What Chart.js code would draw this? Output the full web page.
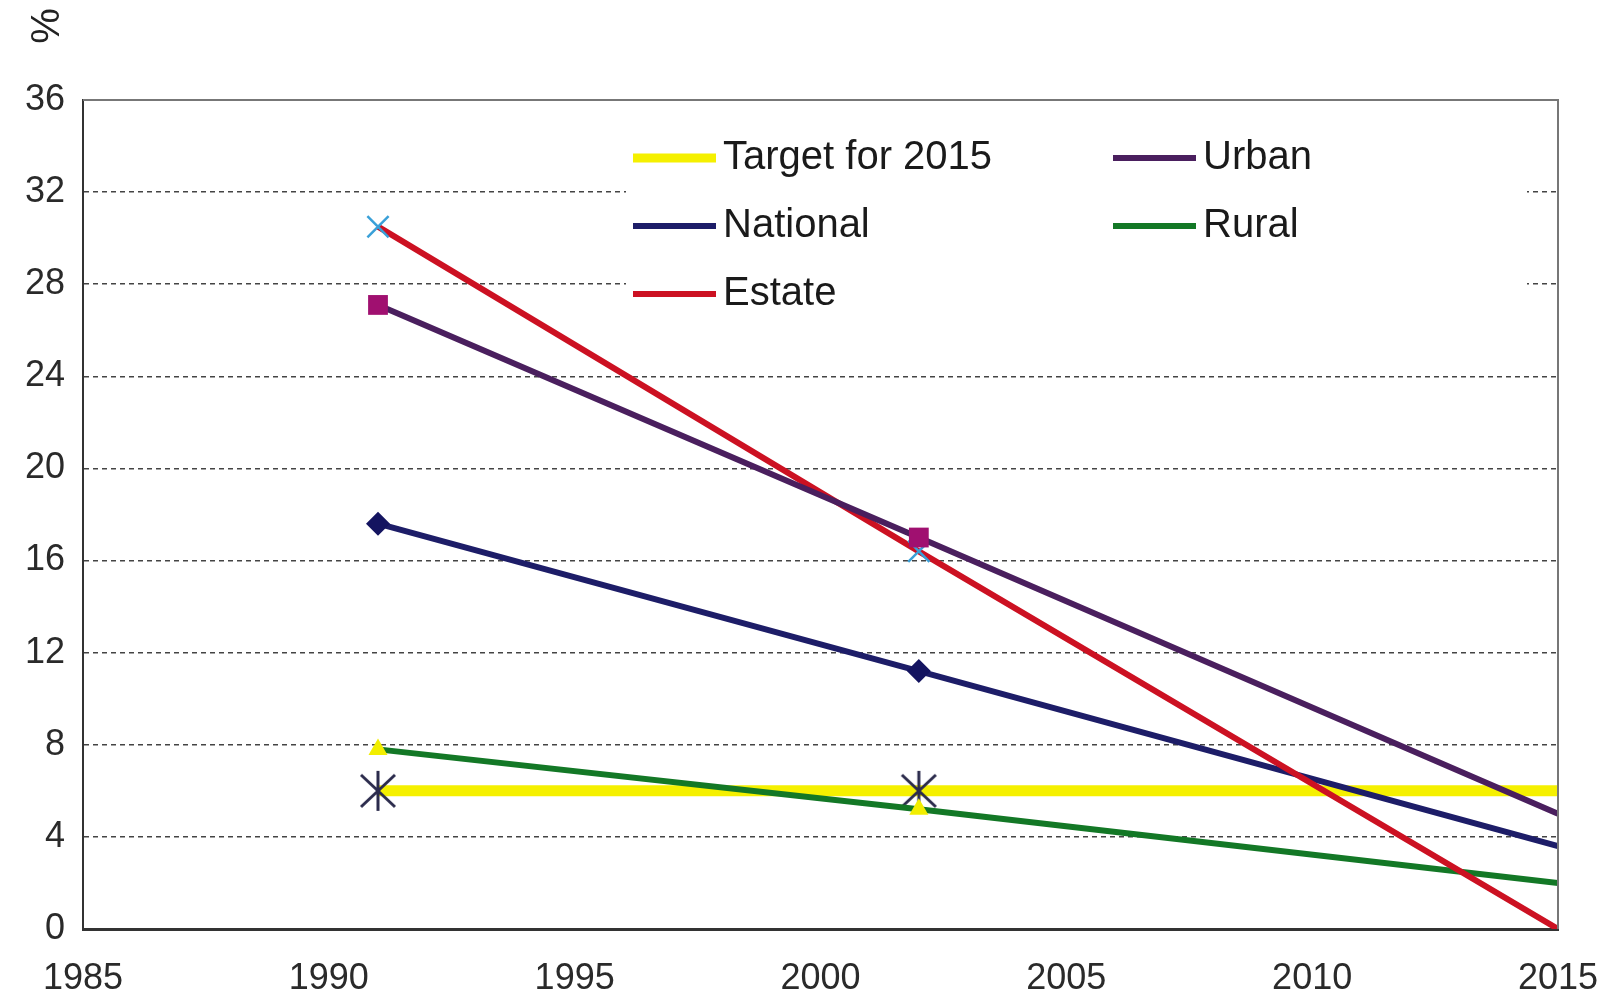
<!DOCTYPE html>
<html>
<head>
<meta charset="utf-8">
<script src="https://cdn.jsdelivr.net/npm/chart.js@4/dist/chart.umd.min.js"></script>
<style>
  html, body { margin: 0; padding: 0; background: #fff; }
  #wrap { width: 1610px; height: 999px; }
</style>
</head>
<body>
<div id="wrap"><canvas id="chLine" width="1610" height="999"></canvas></div>
<script>
// data
var years = [1991, 2002, 2015];
var target = [6.0, 6.0, 6.0];
var national = [17.6, 11.2, 3.6];
var estate = [30.5, 16.4, 0.0];
var urban = [27.1, 17.0, 5.0];
var rural = [7.8, 5.2, 2.0];

var xTicks = [1985, 1990, 1995, 2000, 2005, 2010, 2015];
var yTicks = [0, 4, 8, 12, 16, 20, 24, 28, 32, 36];

function pts(vals) {
    return vals.map(function (v, i) { return {x: years[i], y: v}; });
}

// excel style asterisk marker (vertical bar + X)
var star = document.createElement('canvas');
star.width = 44; star.height = 44;
(function () {
    var c = star.getContext('2d');
    c.strokeStyle = '#2b2b4c';
    c.lineWidth = 3;
    c.beginPath();
    c.moveTo(22, 2); c.lineTo(22, 42);
    c.moveTo(5, 6); c.lineTo(39, 38);
    c.moveTo(39, 6); c.lineTo(5, 38);
    c.stroke();
})();

// white legend box inside the plot, two columns
const boxLegend = {
    id: 'boxLegend',
    beforeDatasetsDraw(chart) {
        const ctx = chart.ctx;
        ctx.save();
        ctx.fillStyle = '#fff';
        ctx.fillRect(626, 118, 901, 214);
        ctx.font = '40px "Liberation Sans", Arial, sans-serif';
        ctx.textBaseline = 'middle';
        ctx.fillStyle = '#1a1a1a';
        chart.data.datasets.forEach(function (ds, i) {
            var col = i < 3 ? 0 : 1;
            var row = i < 3 ? i : i - 3;
            var x0 = col === 0 ? 633 : 1113;
            var y = 158 + row * 68;
            ctx.strokeStyle = ds.borderColor;
            ctx.lineWidth = ds.borderWidth > 8 ? 9 : 6;
            ctx.beginPath();
            ctx.moveTo(x0, y);
            ctx.lineTo(x0 + 83, y);
            ctx.stroke();
            ctx.fillText(ds.label, x0 + 90, y);
        });
        ctx.restore();
    },
    afterDraw(chart) {
        const ctx = chart.ctx;
        const a = chart.chartArea;
        ctx.save();
        ctx.strokeStyle = '#777';
        ctx.lineWidth = 2;
        ctx.beginPath();
        ctx.moveTo(a.left, a.top);
        ctx.lineTo(a.right, a.top);
        ctx.lineTo(a.right, a.bottom);
        ctx.stroke();
        // "%" axis title
        ctx.translate(48, 26);
        ctx.rotate(-Math.PI / 2);
        ctx.font = '40px "Liberation Sans", Arial, sans-serif';
        ctx.fillStyle = '#222';
        ctx.textAlign = 'center';
        ctx.textBaseline = 'middle';
        ctx.fillText('%', 0, 0);
        ctx.restore();
    }
};

var chLine = document.getElementById('chLine');

new Chart(chLine, {
    type: 'line',
    data: {
        datasets: [{
            label: 'Target for 2015',
            data: pts(target),
            borderColor: '#f5f000',
            borderWidth: 11,
            pointStyle: star,
            pointRadius: [18, 18, 0],
            order: 5
        }, {
            label: 'National',
            data: pts(national),
            borderColor: '#1d1d68',
            backgroundColor: '#141460',
            borderWidth: 6,
            pointStyle: 'rectRot',
            pointRadius: [12, 12, 0],
            pointBorderWidth: 0,
            order: 2
        }, {
            label: 'Estate',
            data: pts(estate),
            borderColor: '#cc1122',
            borderWidth: 6,
            pointStyle: 'crossRot',
            pointRadius: [15, 15, 0],
            pointBorderColor: '#3aa0d8',
            pointBorderWidth: 2.5,
            order: 1
        }, {
            label: 'Urban',
            data: pts(urban),
            borderColor: '#4a1f5e',
            backgroundColor: '#a01070',
            borderWidth: 6,
            pointStyle: 'rect',
            pointRadius: [14, 14, 0],
            pointBorderWidth: 0,
            order: 0
        }, {
            label: 'Rural',
            data: pts(rural),
            borderColor: '#137826',
            backgroundColor: '#f2ee00',
            borderWidth: 6,
            pointStyle: 'triangle',
            pointRadius: [11, 11, 0],
            pointBorderWidth: 0,
            order: 3
        }]
    },
    options: {
        responsive: false,
        animation: false,
        layout: {
            padding: {top: 100, right: 52, left: 0, bottom: 0}
        },
        plugins: {
            legend: {display: false},
            tooltip: {enabled: false}
        },
        scales: {
            x: {
                type: 'linear',
                min: 1985,
                max: 2015,
                afterBuildTicks: function (scale) {
                    scale.ticks = xTicks.map(function (v) { return {value: v}; });
                },
                afterFit: function (scale) {
                    scale.height = 70;
                    scale.paddingLeft = 0;
                    scale.paddingRight = 0;
                },
                grid: {display: false, drawTicks: false},
                border: {display: true, color: '#333', width: 3},
                ticks: {
                    padding: 28,
                    color: '#2a2a2a',
                    font: {family: '"Liberation Sans", Arial, sans-serif', size: 36},
                    callback: function (v) { return String(v); }
                }
            },
            y: {
                min: 0,
                max: 36,
                afterBuildTicks: function (scale) {
                    scale.ticks = yTicks.map(function (v) { return {value: v}; });
                },
                afterFit: function (scale) {
                    scale.width = 83;
                    scale.paddingTop = 0;
                    scale.paddingBottom = 0;
                },
                grid: {color: '#444', lineWidth: 1.5, drawTicks: false},
                border: {display: true, color: '#333', width: 2, dash: [5, 4]},
                ticks: {
                    padding: 18,
                    color: '#2a2a2a',
                    font: {family: '"Liberation Sans", Arial, sans-serif', size: 36}
                }
            }
        }
    },
    plugins: [boxLegend]
});
</script>
</body>
</html>
